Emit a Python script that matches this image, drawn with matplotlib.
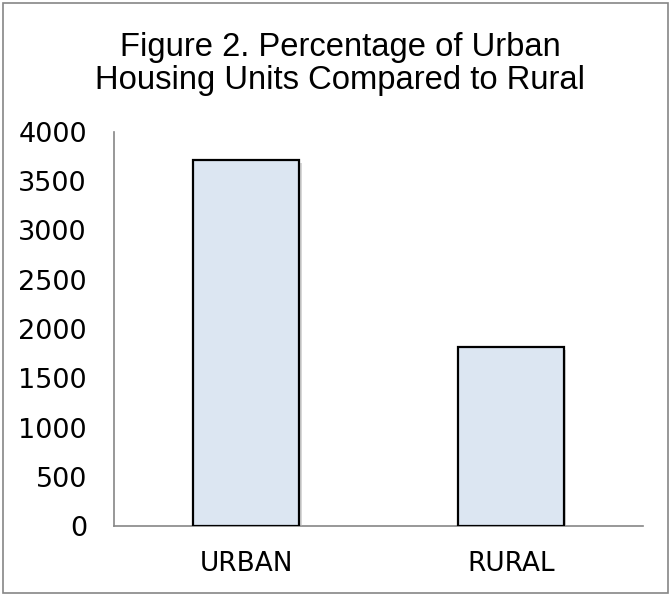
import matplotlib
matplotlib.use("Agg")
import matplotlib.pyplot as plt
from matplotlib.patches import Rectangle
import matplotlib.patheffects as pe

categories = ["URBAN", "RURAL"]
values = [3715, 1815]
yticks = [0, 500, 1000, 1500, 2000, 2500, 3000, 3500, 4000]
title = "Figure 2. Percentage of Urban\nHousing Units Compared to Rural"

fig = plt.figure(figsize=(6.72, 5.95), dpi=100)
ax = fig.add_axes([114/672, 1-526/595, (643-114)/672, (526-132)/595])

x = list(range(len(categories)))
bars = ax.bar(x, values, width=0.4, color="#dce6f2", edgecolor="black", linewidth=1.6, zorder=3)
for b in bars:
    b.set_path_effects([pe.SimplePatchShadow(offset=(2, -2), shadow_rgbFace="#b0b0b0", alpha=0.5), pe.Normal()])

ax.set_xlim(-0.5, 1.5)
ax.set_ylim(0, 4000)
ax.set_yticks(yticks)
ax.set_yticklabels([str(v) for v in yticks], fontsize=19.5, family="DejaVu Sans")
ax.set_xticks(x)
ax.set_xticklabels(categories, fontsize=19, family="DejaVu Sans")
ax.tick_params(axis="both", length=0)
ax.tick_params(axis="y", pad=19.5)
ax.tick_params(axis="x", pad=18)
for s in ["top", "right"]:
    ax.spines[s].set_visible(False)
for s in ["left", "bottom"]:
    ax.spines[s].set_color("#868686")
    ax.spines[s].set_linewidth(1.2)

fig.text(340/672, 1-64/595, title, ha="center", va="center", fontsize=23.6,
         family="Liberation Sans", linespacing=1.08)

fig.patches.append(Rectangle((3/672, 2/595), 665/672, 590/595, transform=fig.transFigure,
                             fill=False, edgecolor="#868686", linewidth=1.2))

fig.savefig("out.png", dpi=100)
